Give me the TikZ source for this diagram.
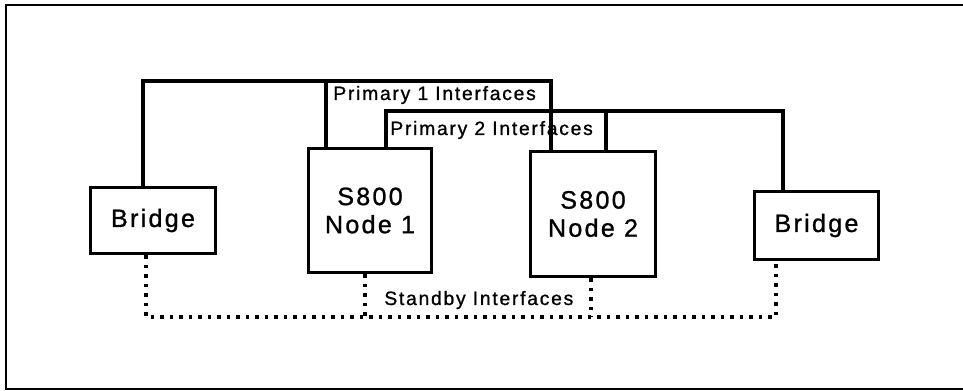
\documentclass[tikz,border=0pt]{standalone}
\usepackage{fontspec}
\setmainfont{Liberation Sans}[LetterSpace=9, FakeBold=1]
\usepackage{tikz}
\usetikzlibrary{positioning}

\begin{document}
\begin{tikzpicture}[x=0.02cm, y=-0.02cm,
    unit/.style={rectangle, draw=black, line width=0.07cm, align=center, font=\fontsize{14.3}{16}\selectfont},
    wire/.style={line width=0.07cm},
    standby/.style={line width=0.07cm, dash pattern=on 0.07cm off 0.12cm},
    lbl/.style={font=\fontsize{11}{13}\selectfont, inner sep=0pt, anchor=west},
  ]
    \useasboundingbox (0,0) rectangle (963,391);

    % Frame (open on the right)
    \draw[line width=0.045cm] (963,5) -- (6,5) -- (6,389) -- (963,389);

    % Units
    \node[unit, minimum width=2.5cm, minimum height=1.32cm] (bridgeL) at (153,220.5) {Bridge};
    \node[unit, minimum width=2.46cm, minimum height=2.48cm] (node1) at (370,210.5) {S800\\Node 1};
    \node[unit, minimum width=2.5cm, minimum height=2.5cm] (node2) at (593,214) {S800\\Node 2};
    \node[unit, minimum width=2.48cm, minimum height=1.36cm] (bridgeR) at (816.5,225.5) {Bridge};

    % Primary 1
    \coordinate (p1a) at (143,81);
    \coordinate (p1b) at (326,81);
    \coordinate (p1c) at (551,81);
    \draw[wire] (bridgeL.north -| p1a) -- (p1a) -- (p1c) -- (node2.north -| p1c);
    \draw[wire] (p1b) -- (node1.north -| p1b);
    \node[lbl] (lblp1) at (333,95) {Primary 1 Interfaces};

    % Primary 2
    \coordinate (p2a) at (386,111);
    \coordinate (p2b) at (606,111);
    \coordinate (p2c) at (783,111);
    \draw[wire] (node1.north -| p2a) -- (p2a) -- (p2c) -- (bridgeR.north -| p2c);
    \draw[wire] (p2b) -- (node2.north -| p2b);
    \node[lbl] (lblp2) at (390,130) {Primary 2 Interfaces};

    % Standby
    \coordinate (sa) at (146,317);
    \coordinate (sb) at (365,317);
    \coordinate (sc) at (591,317);
    \coordinate (sd) at (776,317);
    \draw[standby] (bridgeL.south -| sa) -- (sa) -- (sd) -- (bridgeR.south -| sd);
    \draw[standby] (node1.south -| sb) -- (sb);
    \draw[standby] (node2.south -| sc) -- (sc);
    \node[lbl] (lblsb) at (384,300) {Standby Interfaces};

  \end{tikzpicture}
\end{document}
